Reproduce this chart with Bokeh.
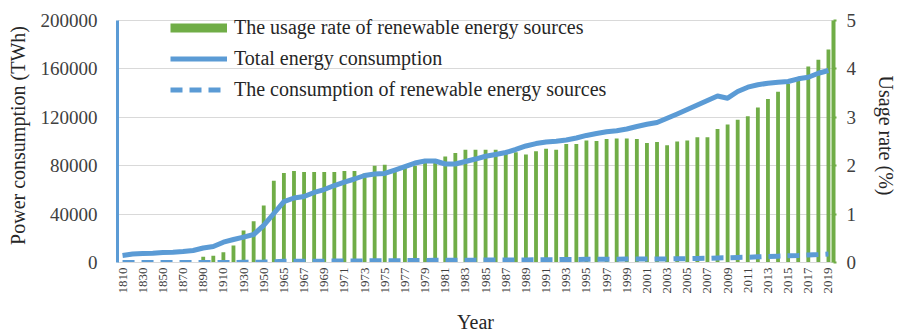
import math
from bokeh.plotting import figure
from bokeh.models import (ColumnDataSource, Range1d, LinearAxis, FixedTicker,
                          Legend, LegendItem, BasicTickFormatter)
from bokeh.embed import file_html
from bokeh.resources import INLINE

years = ["1810", "1820", "1830", "1840", "1850", "1860", "1870", "1880", "1890", "1900",
         "1910", "1920", "1930", "1940", "1950", "1960", "1965", "1966", "1967", "1968",
         "1969", "1970", "1971", "1972", "1973", "1974", "1975", "1976", "1977", "1978",
         "1979", "1980", "1981", "1982", "1983", "1984", "1985", "1986", "1987", "1988",
         "1989", "1990", "1991", "1992", "1993", "1994", "1995", "1996", "1997", "1998",
         "1999", "2000", "2001", "2002", "2003", "2004", "2005", "2006", "2007", "2008",
         "2009", "2010", "2011", "2012", "2013", "2014", "2015", "2016", "2017", "2018",
         "2019"]

total_twh = [5800, 7000, 7400, 7700, 8300, 8500, 9100, 9900, 12000, 13200,
             16800, 19000, 21000, 23100, 30600, 40500, 50400, 53300, 54500, 57900,
             60300, 63600, 66500, 69000, 71900, 73100, 73600, 76400, 79300, 82200,
             83900, 83900, 81400, 81400, 83500, 85500, 87800, 89300, 90900, 93400,
             96300, 98300, 99600, 100200, 101200, 102900, 105000, 106600, 108000, 108900,
             110300, 112400, 114200, 115700, 119200, 122700, 126400, 130200, 133900, 137600,
             135800, 141300, 144900, 146900, 148200, 149000, 149600, 151800, 153100, 156400,
             158700]

renew_twh = [0, 0, 0, 0, 0, 0, 0, 0, 14, 18,
             36, 67, 139, 196, 361, 684, 932, 1007, 1019, 1083,
             1128, 1189, 1257, 1304, 1330, 1462, 1487, 1452, 1562, 1644,
             1737, 1762, 1783, 1840, 1946, 1992, 2050, 2081, 2045, 2130,
             2147, 2261, 2341, 2335, 2479, 2521, 2646, 2676, 2754, 2788,
             2824, 2866, 2821, 2881, 2889, 3068, 3185, 3372, 3468, 3798,
             3870, 4168, 4376, 4701, 5009, 5260, 5520, 5814, 6201, 6553,
             6983]

usage_rate = [0, 0, 0, 0, 0, 0, 0, 0, 0.12, 0.14,
              0.21, 0.35, 0.66, 0.85, 1.18, 1.69, 1.85, 1.89, 1.87, 1.87,
              1.87, 1.87, 1.89, 1.89, 1.84, 2.00, 2.02, 1.90, 1.97, 2.00,
              2.07, 2.10, 2.19, 2.26, 2.33, 2.33, 2.33, 2.33, 2.25, 2.28,
              2.23, 2.30, 2.35, 2.33, 2.45, 2.45, 2.52, 2.51, 2.55, 2.56,
              2.56, 2.55, 2.47, 2.49, 2.42, 2.50, 2.52, 2.59, 2.59, 2.76,
              2.85, 2.95, 3.02, 3.20, 3.38, 3.53, 3.69, 3.83, 4.05, 4.19,
              4.40]

left_ticks = [0, 40000, 80000, 120000, 160000, 200000]
right_ticks = [0, 1, 2, 3, 4, 5]
LEFT_MAX = 200000
RIGHT_MAX = 5

FONT = "Liberation Serif"
BLUE = "#5B9BD5"
GREEN = "#70AD47"
TICK_TEXT = "#404040"
LABEL_TEXT = "#262626"
GRID = "#D9D9D9"

# frame extends a little above the axes' top so the legend has room
HEAD = 254.0 / 242.0

idx = list(range(len(years)))
src = ColumnDataSource(dict(x=idx, total=total_twh, renew=renew_twh, rate=usage_rate))

p = figure(width=903, height=336, output_backend="svg", toolbar_location=None,
           x_range=Range1d(-0.5, len(years) - 0.5),
           y_range=Range1d(0, LEFT_MAX * HEAD),
           min_border_left=117, min_border_right=70, min_border_top=8,
           min_border_bottom=74)
p.extra_y_ranges = {"rate": Range1d(0, RIGHT_MAX * HEAD)}
p.outline_line_color = None

p.vbar(x="x", top="rate", bottom=0, width=0.38, source=src, y_range_name="rate",
       fill_color=GREEN, line_color=None)
r_total = p.line("x", "total", source=src, line_color=BLUE, line_width=5,
                 line_join="round")
r_renew = p.line("x", "renew", source=src, line_color=BLUE, line_width=5,
                 line_dash="12 7")
proxy = p.line(x=[float("nan")], y=[float("nan")], line_color=GREEN, line_width=9)

# left axis
la = p.left[0]
la.ticker = FixedTicker(ticks=left_ticks)
la.bounds = (0, LEFT_MAX)
la.formatter = BasicTickFormatter(use_scientific=False)
la.axis_line_color = BLUE
la.axis_line_width = 3
la.major_tick_line_color = None
la.major_tick_out = 0
la.major_tick_in = 0
la.minor_tick_line_color = None
la.minor_tick_out = 0
la.major_label_text_font = FONT
la.major_label_text_font_size = "19px"
la.major_label_text_color = TICK_TEXT
la.major_label_standoff = 20
la.axis_label = "Power consumption (TWh)"
la.axis_label_text_font = FONT
la.axis_label_text_font_size = "20px"
la.axis_label_text_font_style = "normal"
la.axis_label_text_color = LABEL_TEXT
la.axis_label_standoff = 9

# right axis
ra = LinearAxis(y_range_name="rate", ticker=FixedTicker(ticks=right_ticks),
                axis_label="Usage rate (%)", bounds=(0, RIGHT_MAX))
ra.axis_line_color = GREEN
ra.axis_line_width = 4
ra.major_tick_line_color = GREEN
ra.major_tick_line_width = 2
ra.major_tick_out = 3
ra.major_tick_in = 0
ra.minor_tick_line_color = None
ra.minor_tick_out = 0
ra.major_label_text_font = FONT
ra.major_label_text_font_size = "19px"
ra.major_label_text_color = TICK_TEXT
ra.major_label_standoff = 10
ra.axis_label_text_font = FONT
ra.axis_label_text_font_size = "20px"
ra.axis_label_text_font_style = "normal"
ra.axis_label_text_color = LABEL_TEXT
ra.axis_label_standoff = 16
p.add_layout(ra, "right")

# bottom axis
ba = p.below[0]
shown = list(range(0, len(years), 2))
ba.ticker = FixedTicker(ticks=shown)
ba.major_label_overrides = {i: years[i] for i in shown}
ba.major_label_orientation = math.pi / 2
ba.axis_line_color = GRID
ba.major_tick_line_color = None
ba.major_tick_out = 0
ba.major_tick_in = 0
ba.minor_tick_line_color = None
ba.minor_tick_out = 0
ba.major_label_text_font = FONT
ba.major_label_text_font_size = "13px"
ba.major_label_text_color = TICK_TEXT
ba.major_label_standoff = 5
ba.axis_label = "Year"
ba.axis_label_text_font = FONT
ba.axis_label_text_font_size = "20px"
ba.axis_label_text_font_style = "normal"
ba.axis_label_text_color = LABEL_TEXT
ba.axis_label_standoff = 14

p.xgrid.visible = False
p.ygrid.grid_line_color = GRID
p.ygrid.grid_line_width = 1

legend = Legend(items=[
    LegendItem(label="The usage rate of renewable energy sources", renderers=[proxy]),
    LegendItem(label="Total energy consumption", renderers=[r_total]),
    LegendItem(label="The consumption of renewable energy sources", renderers=[r_renew]),
], location=(53, 161), glyph_width=57, glyph_height=23, label_height=23,
    spacing=8, padding=0, margin=0, label_standoff=7,
    label_text_font=FONT, label_text_font_size="20px", label_text_color=LABEL_TEXT,
    background_fill_alpha=0, border_line_color=None)
p.add_layout(legend)

open("out.html", "w").write(file_html(p, INLINE))
